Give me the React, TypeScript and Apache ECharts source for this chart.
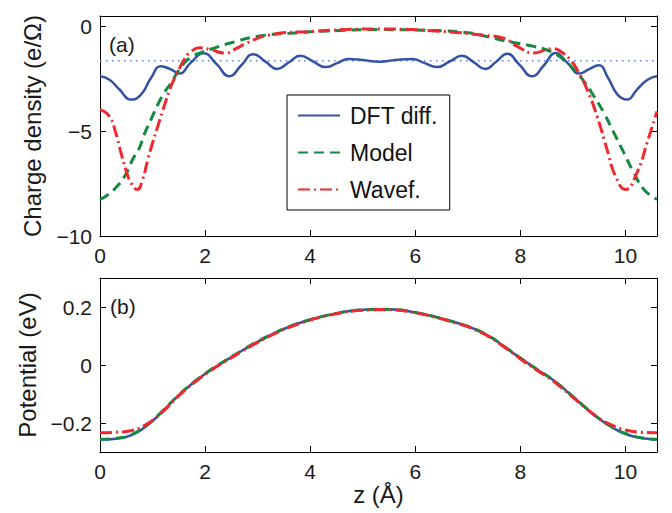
import React, { useEffect, useRef } from "react";
import * as echarts from "echarts";

// ---- Panel (a): charge density ----
const dftZ = [0, 0.18, 0.37, 0.59, 0.78, 0.97, 1.16, 1.35, 1.51, 1.72, 1.97, 2.22, 2.46, 2.69, 2.92, 3.15, 3.37, 3.59, 3.81, 4.05, 4.29, 4.51, 4.73, 5.0, 5.31, 5.62, 5.94, 6.17, 6.41, 6.65, 6.89, 7.11, 7.33, 7.54, 7.75, 7.98, 8.22, 8.45, 8.67, 8.9, 9.12, 9.3, 9.49, 9.67, 9.85, 10.03, 10.22, 10.42, 10.6];
const dftRho = [-2.38, -2.54, -3.01, -3.49, -3.25, -2.46, -1.9, -2.05, -2.25, -1.75, -1.28, -1.8, -2.38, -1.85, -1.32, -1.68, -2.03, -1.72, -1.4, -1.66, -1.94, -1.75, -1.55, -1.6, -1.68, -1.6, -1.55, -1.74, -1.94, -1.68, -1.4, -1.7, -2.03, -1.68, -1.3, -1.82, -2.38, -1.85, -1.27, -1.75, -2.25, -2.05, -1.85, -2.46, -3.25, -3.49, -3.01, -2.54, -2.38];

const modelZ = [0, 0.11, 0.3, 0.49, 0.62, 0.75, 0.84, 0.97, 1.1, 1.22, 1.35, 1.47, 1.6, 1.76, 1.95, 2.17, 2.48, 2.98, 3.62, 4.57, 5.31, 6.35, 7.0, 7.3, 7.75, 8.25, 8.57, 8.83, 9.02, 9.21, 9.4, 9.59, 9.78, 9.97, 10.16, 10.35, 10.6];
const modelRho = [-8.25, -8.1, -7.7, -7.06, -6.35, -5.79, -5.16, -4.44, -3.73, -3.17, -2.7, -2.2, -1.75, -1.42, -1.22, -1.03, -0.79, -0.48, -0.32, -0.19, -0.15, -0.19, -0.3, -0.44, -0.71, -0.95, -1.19, -1.59, -2.06, -2.62, -3.33, -4.13, -5.08, -6.03, -6.98, -7.78, -8.25];

const wavefZ = [0, 0.18, 0.3, 0.4, 0.49, 0.59, 0.71, 0.81, 0.91, 1.0, 1.1, 1.22, 1.35, 1.47, 1.6, 1.73, 1.9, 2.1, 2.38, 2.6, 2.79, 3.24, 4.0, 5.31, 6.54, 7.3, 7.68, 7.94, 8.25, 8.5, 8.63, 8.8, 8.95, 9.08, 9.27, 9.46, 9.65, 9.81, 10.0, 10.22, 10.41, 10.6];
const wavefRho = [-3.97, -4.29, -5.08, -6.03, -6.83, -7.46, -7.78, -7.3, -6.35, -5.56, -4.76, -3.81, -2.86, -2.22, -1.59, -1.2, -1.02, -1.1, -1.27, -1.05, -0.79, -0.4, -0.24, -0.12, -0.24, -0.42, -0.56, -0.95, -1.27, -1.1, -1.06, -1.25, -1.59, -2.06, -3.01, -4.29, -5.87, -7.14, -7.78, -6.98, -5.56, -4.05];

const refLevel = -1.63;

// ---- Panel (b): potential ----
const potZ = [0, 0.3, 0.6, 0.9, 1.2, 1.5, 1.8, 2.1, 2.4, 2.7, 3.0, 3.3, 3.6, 3.9, 4.2, 4.5, 4.8, 5.1, 5.3, 5.6, 6.0, 6.4, 6.8, 7.05, 7.4, 7.7, 8.0, 8.3, 8.63, 8.95, 9.27, 9.5, 9.71, 10.0, 10.3, 10.6];
const potDft = [-0.257, -0.254, -0.242, -0.208, -0.158, -0.104, -0.058, -0.018, 0.016, 0.049, 0.08, 0.108, 0.132, 0.151, 0.166, 0.178, 0.187, 0.191, 0.192, 0.191, 0.181, 0.165, 0.145, 0.13, 0.1, 0.063, 0.024, -0.013, -0.053, -0.101, -0.152, -0.186, -0.211, -0.238, -0.252, -0.257];
const potModel = [-0.256, -0.253, -0.24, -0.206, -0.157, -0.103, -0.057, -0.017, 0.017, 0.05, 0.081, 0.108, 0.132, 0.151, 0.166, 0.178, 0.187, 0.191, 0.192, 0.191, 0.181, 0.165, 0.145, 0.13, 0.1, 0.063, 0.024, -0.013, -0.053, -0.101, -0.151, -0.185, -0.21, -0.236, -0.251, -0.256];
const potWavef = [-0.234, -0.232, -0.226, -0.203, -0.16, -0.106, -0.06, -0.02, 0.014, 0.047, 0.078, 0.106, 0.13, 0.149, 0.165, 0.177, 0.186, 0.19, 0.191, 0.19, 0.18, 0.164, 0.143, 0.128, 0.098, 0.061, 0.021, -0.016, -0.056, -0.104, -0.153, -0.184, -0.205, -0.224, -0.232, -0.234];

const legendNames = ["DFT diff.", "Model", "Wavef."];

const FONT = "'Liberation Sans', Arial, Helvetica, sans-serif";
const BLUE = "#3352a3";
const GREEN = "#138a3f";
const RED = "#ee2a2e";

const pair = (xs: number[], ys: number[]) => xs.map((x, i) => [x, ys[i]]);

const fmt = (step: number) => (v: number) => {
  const r = v / step;
  if (Math.abs(r - Math.round(r)) > 1e-6) return "";
  const s = String(Math.round(v * 1000) / 1000);
  return s.replace("-", "\u2212");
};

const baseAxis = {
  type: "value" as const,
  axisLine: { show: true, onZero: false, lineStyle: { color: "#000", width: 1 } },
  axisTick: { show: true, inside: true, length: 6, lineStyle: { color: "#000", width: 1 } },
  splitLine: { show: false },
};

const labelStyle = { fontSize: 21, color: "#1a1a1a", fontFamily: FONT };

export default function App() {
  const ref = useRef<HTMLDivElement>(null);
  useEffect(() => {
    const chart = echarts.init(ref.current!, null, { renderer: "svg" });
    const xMin = 0;
    const xMax = 10.6;
    const option: any = {
      animation: false,
      backgroundColor: "#fff",
      textStyle: { fontFamily: FONT },
      grid: [
        { left: 100, top: 16, width: 557, height: 220 },
        { left: 100, top: 278, width: 557, height: 174 },
      ],
      xAxis: [
        { ...baseAxis, gridIndex: 0, position: "bottom", min: xMin, max: xMax, interval: 2,
          axisLabel: { ...labelStyle, margin: 9, formatter: fmt(2) } },
        { ...baseAxis, gridIndex: 0, position: "top", min: xMin, max: xMax, interval: 2,
          axisLabel: { show: false } },
        { ...baseAxis, gridIndex: 1, position: "bottom", min: xMin, max: xMax, interval: 2,
          axisLabel: { ...labelStyle, margin: 9, formatter: fmt(2) },
          name: "z (Å)", nameLocation: "middle", nameGap: 29,
          nameTextStyle: { fontSize: 24, color: "#1a1a1a", fontFamily: FONT } },
        { ...baseAxis, gridIndex: 1, position: "top", min: xMin, max: xMax, interval: 2,
          axisLabel: { show: false } },
      ],
      yAxis: [
        { ...baseAxis, gridIndex: 0, position: "left", min: -10, max: 0.5, interval: 5,
          axisLabel: { ...labelStyle, margin: 8, formatter: fmt(5) },
          name: "Charge density (e/Ω)", nameLocation: "middle", nameGap: 56,
          nameTextStyle: { fontSize: 24, color: "#1a1a1a", fontFamily: FONT } },
        { ...baseAxis, gridIndex: 0, position: "right", min: -10, max: 0.5, interval: 5,
          axisLabel: { show: false } },
        { ...baseAxis, gridIndex: 1, position: "left", min: -0.3, max: 0.3, splitNumber: 3,
          axisLabel: { ...labelStyle, margin: 8, formatter: fmt(0.2) },
          name: "Potential (eV)", nameLocation: "middle", nameGap: 56,
          nameTextStyle: { fontSize: 24, color: "#1a1a1a", fontFamily: FONT } },
        { ...baseAxis, gridIndex: 1, position: "right", min: -0.3, max: 0.3, splitNumber: 3,
          axisLabel: { show: false } },
      ],
      legend: {
        data: legendNames.map((n) => ({ name: n, icon: "inherit" })),
        orient: "vertical",
        left: 287,
        top: 95,
        backgroundColor: "#fff",
        borderColor: "#000",
        borderWidth: 1,
        borderRadius: 0,
        padding: [9, 12, 9, 10],
        itemWidth: 42,
        itemHeight: 14,
        itemGap: 14,
        selectedMode: false,
        itemStyle: { opacity: 0 },
        textStyle: { fontSize: 23, color: "#111", fontFamily: FONT, padding: [0, 0, 0, 5] },
      },
      graphic: [
        { type: "text", left: 109, top: 34, style: { text: "(a)", fontSize: 21, fill: "#1a1a1a", fontFamily: FONT } },
        { type: "text", left: 110, top: 296, style: { text: "(b)", fontSize: 21, fill: "#1a1a1a", fontFamily: FONT } },
      ],
      series: [
        {
          name: "ref", type: "line", xAxisIndex: 0, yAxisIndex: 0, silent: true,
          data: [[xMin, refLevel], [xMax, refLevel]], symbol: "none",
          lineStyle: { color: "#5f7dcc", width: 1.5, type: [1.5, 4.5] },
        },
        {
          name: legendNames[0], type: "line", xAxisIndex: 0, yAxisIndex: 0,
          data: pair(dftZ, dftRho), symbol: "none", showSymbol: false, smooth: 0.5,
          itemStyle: { color: BLUE }, lineStyle: { color: BLUE, width: 2.5, type: "solid" },
        },
        {
          name: legendNames[1], type: "line", xAxisIndex: 0, yAxisIndex: 0,
          data: pair(modelZ, modelRho), symbol: "none", showSymbol: false, smooth: 0.5,
          itemStyle: { color: GREEN }, lineStyle: { color: GREEN, width: 3, type: [10, 6] },
        },
        {
          name: legendNames[2], type: "line", xAxisIndex: 0, yAxisIndex: 0,
          data: pair(wavefZ, wavefRho), symbol: "none", showSymbol: false, smooth: 0.5,
          itemStyle: { color: RED }, lineStyle: { color: RED, width: 3, type: [12, 4, 2, 4] },
        },
        {
          name: "DFT potential", type: "line", xAxisIndex: 2, yAxisIndex: 2,
          data: pair(potZ, potDft), symbol: "none", showSymbol: false, smooth: 0.5,
          lineStyle: { color: BLUE, width: 2.5, type: "solid" },
        },
        {
          name: "Model potential", type: "line", xAxisIndex: 2, yAxisIndex: 2,
          data: pair(potZ, potModel), symbol: "none", showSymbol: false, smooth: 0.5,
          lineStyle: { color: GREEN, width: 3, type: [10, 6] },
        },
        {
          name: "Wavef. potential", type: "line", xAxisIndex: 2, yAxisIndex: 2,
          data: pair(potZ, potWavef), symbol: "none", showSymbol: false, smooth: 0.5,
          lineStyle: { color: RED, width: 3, type: [12, 4, 2, 4] },
        },
      ],
    };
    chart.setOption(option);
    return () => chart.dispose();
  }, []);
  return (
    <div
      ref={ref}
      style={{ position: "absolute", left: 0, top: 0, width: 672, height: 513 }}
    />
  );
}
